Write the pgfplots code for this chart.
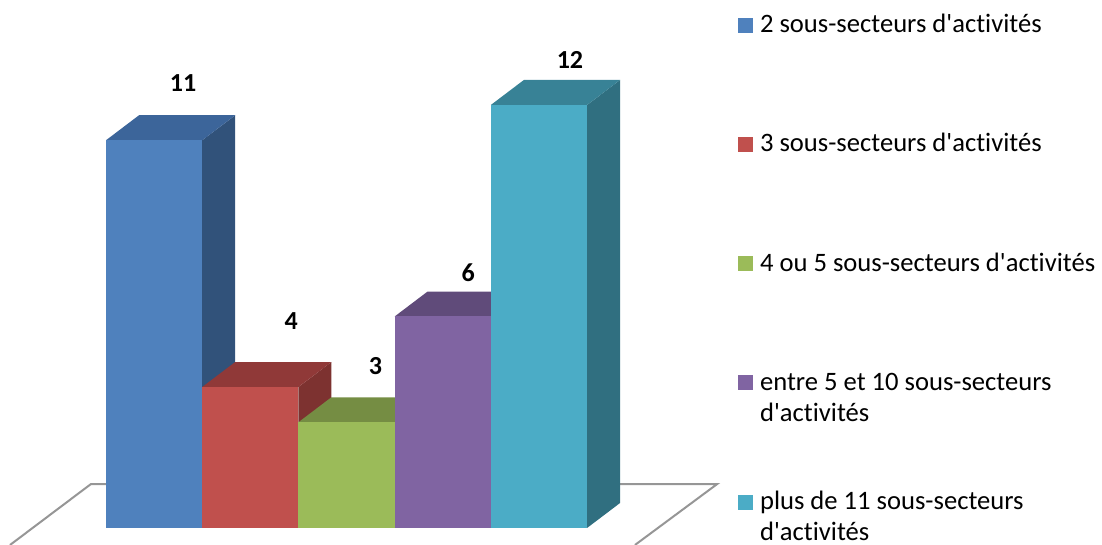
\documentclass[border=0pt]{standalone}
\usepackage{pgfplots}
\pgfplotsset{compat=1.18}
\usepackage{fontspec}
\setmainfont{Carlito}[Ligatures={TeXOff,CommonOff}]
\definecolor{fB}{HTML}{4F81BD}\definecolor{sB}{HTML}{31527A}\definecolor{tB}{HTML}{3C659A}
\definecolor{fR}{HTML}{C0504D}\definecolor{sR}{HTML}{7D3230}\definecolor{tR}{HTML}{903938}
\definecolor{fG}{HTML}{9BBB59}\definecolor{tG}{HTML}{758D43}
\definecolor{fP}{HTML}{8064A2}\definecolor{sP}{HTML}{52406A}\definecolor{tP}{HTML}{604B7A}
\definecolor{fT}{HTML}{4BACC6}\definecolor{sT}{HTML}{306F80}\definecolor{tT}{HTML}{388296}
\definecolor{fl}{HTML}{969696}
\newcommand\LL[2]{\vtop{\hbox{\strut #1}\hbox{\strut #2}}}
\pgfplotsset{
  frontbar/.style args={#1/#2/#3}{ybar, bar width=1, bar shift=0pt, fill=#1, draw=none,
    nodes near coords, every node near coord/.append style={anchor=center, xshift=#2pt, yshift=#3pt}},
  face/.style={forget plot, draw=none, fill=#1},
}
\begin{document}
\begin{tikzpicture}
\path[use as bounding box] (0,0) rectangle (1102pt,545pt);
\begin{axis}[
  scale only axis, width=1102pt, height=545pt,
  hide axis,
  xmin=-1.6019, xmax=9.8534,
  ymin=-0.4823, ymax=14.9787,
  /pgf/number format/assume math mode=true,
  nodes near coords style={font=\fontsize{26}{30}\selectfont\bfseries, text=black},
  legend style={at={(axis description cs:0.6697,0.9798)}, anchor=north west, draw=none, fill=none,
    row sep=96pt, column sep=7pt, inner sep=0pt, outer sep=0pt,
    nodes={font=\fontsize{26.6}{31}\selectfont, anchor=base west, inner sep=0pt}},
  legend cell align=left,
  legend image code/.code={\fill[#1,draw=none] (0pt,0pt) rectangle (15pt,15pt);},
]
% floor outline
\addplot[forget plot, draw=fl, line width=2pt] coordinates
  {(-1.498,-0.482) (-0.656,1.248) (5.853,1.248) (4.998,-0.482)};

% bar 1
\addplot[face=sB] coordinates {(0.5,0) (0.843,0.709) (0.843,11.709) (0.5,11)} --cycle;
\addplot[face=tB] coordinates {(-0.5,11) (-0.157,11.709) (0.843,11.709) (0.5,11)} --cycle;
\addplot[frontbar=fB/29/57] coordinates {(0,11)};
% bar 2
\addplot[face=sR] coordinates {(1.5,0) (1.843,0.709) (1.843,4.709) (1.5,4)} --cycle;
\addplot[face=tR] coordinates {(0.5,4) (0.843,4.709) (1.843,4.709) (1.5,4)} --cycle;
\addplot[frontbar=fR/41/66] coordinates {(1,4)};
% bar 3
\addplot[face=tG] coordinates {(1.5,3) (1.843,3.709) (2.843,3.709) (2.5,3)} --cycle;
\addplot[frontbar=fG/29/56] coordinates {(2,3)};
% bar 4
\addplot[face=tP] coordinates {(2.5,6) (2.843,6.709) (3.843,6.709) (3.5,6)} --cycle;
\addplot[frontbar=fP/25.5/44] coordinates {(3,6)};
% bar 5
\addplot[face=sT] coordinates {(4.5,0) (4.843,0.709) (4.843,12.709) (4.5,12)} --cycle;
\addplot[face=tT] coordinates {(3.5,12) (3.843,12.709) (4.843,12.709) (4.5,12)} --cycle;
\addplot[frontbar=fT/31/45] coordinates {(4,12)};

\legend{{\LL{2 sous-secteurs d'activités}{}},
        {\LL{3 sous-secteurs d'activités}{}},
        {\LL{4 ou 5 sous-secteurs d'activités}{}},
        {\LL{entre 5 et 10 sous-secteurs}{d'activités}},
        {\LL{plus de 11 sous-secteurs}{d'activités}}}
\end{axis}
\end{tikzpicture}
\end{document}
